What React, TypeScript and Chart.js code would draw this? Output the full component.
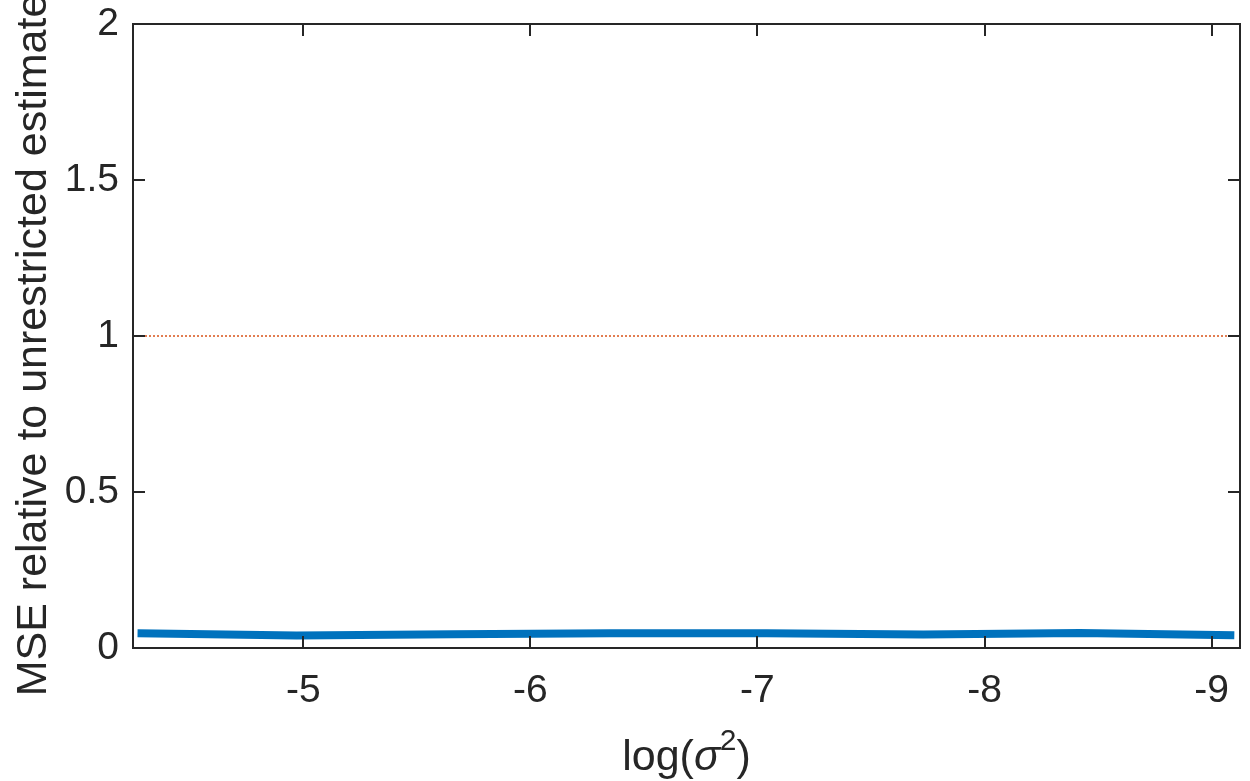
import React, { useEffect, useRef } from "react";
import { Chart, registerables } from "chart.js";
Chart.register(...registerables);

const logSigma2 = [-4.27, -4.97, -5.66, -6.35, -7.04, -7.73, -8.42, -9.1];
const mseRatio = [0.047, 0.04, 0.044, 0.047, 0.047, 0.043, 0.048, 0.041];
const refX = [-4.25, -9.125];
const refY = [1, 1];
const xTicks = [-9, -8, -7, -6, -5];
const yTicks = [0, 0.5, 1, 1.5, 2];
const xRange = [-9.125, -4.25];
const yRange = [0, 2];
const yTitle = "MSE relative to unrestricted estimate";

const FONT = '"Liberation Sans", Arial, Helvetica, sans-serif';
const INK = "#262626";

const framePlugin = {
  id: "matlabFrame",
  afterDraw(chart: any) {
    const { ctx, chartArea: a, scales } = chart;
    const xs = scales.x;
    const ys = scales.y;
    ctx.save();
    ctx.strokeStyle = INK;
    ctx.lineWidth = 2;
    ctx.strokeRect(a.left, a.top, a.right - a.left, a.bottom - a.top);
    ctx.beginPath();
    const tl = 12;
    xTicks.forEach((v) => {
      const px = Math.round(xs.getPixelForValue(v));
      ctx.moveTo(px, a.bottom);
      ctx.lineTo(px, a.bottom - tl);
      ctx.moveTo(px, a.top);
      ctx.lineTo(px, a.top + tl);
    });
    yTicks.forEach((v) => {
      const py = Math.round(ys.getPixelForValue(v));
      ctx.moveTo(a.left, py);
      ctx.lineTo(a.left + tl, py);
      ctx.moveTo(a.right, py);
      ctx.lineTo(a.right - tl, py);
    });
    ctx.stroke();

    // y title
    ctx.fillStyle = INK;
    ctx.save();
    ctx.translate(46, 345);
    ctx.rotate(-Math.PI / 2);
    ctx.font = `43px ${FONT}`;
    ctx.textAlign = "center";
    ctx.textBaseline = "alphabetic";
    ctx.fillText(yTitle, 0, 0);
    ctx.restore();

    // x title: log(σ^2)
    const parts = [
      { t: "log(", f: `43px ${FONT}`, dy: 0 },
      { t: "σ", f: `italic 43px ${FONT}`, dy: 0 },
      { t: "2", f: `30px ${FONT}`, dy: -20 },
      { t: ")", f: `43px ${FONT}`, dy: 0 },
    ];
    let total = 0;
    const widths = parts.map((p) => {
      ctx.font = p.f;
      const w = ctx.measureText(p.t).width;
      total += w;
      return w;
    });
    const cx = (a.left + a.right) / 2;
    let x = cx - total / 2;
    ctx.textAlign = "left";
    ctx.textBaseline = "alphabetic";
    parts.forEach((p, i) => {
      ctx.font = p.f;
      ctx.fillText(p.t, x, 770 + p.dy);
      x += widths[i];
    });
    ctx.restore();
  },
};

const whiteBg = {
  id: "whiteBg",
  beforeDraw(chart: any) {
    const { ctx, width, height } = chart;
    ctx.save();
    ctx.fillStyle = "#ffffff";
    ctx.fillRect(0, 0, width, height);
    ctx.restore();
  },
};

export default function App() {
  const ref = useRef<HTMLCanvasElement | null>(null);
  useEffect(() => {
    if (!ref.current) return;
    const chart = new Chart(ref.current, {
      type: "line",
      data: {
        datasets: [
          {
            label: "ref",
            data: refX.map((x, i) => ({ x, y: refY[i] })),
            borderColor: "#D95319",
            borderWidth: 1.5,
            borderDash: [2, 2],
            pointRadius: 0,
            fill: false,
          },
          {
            label: "mse",
            data: logSigma2.map((x, i) => ({ x, y: mseRatio[i] })),
            borderColor: "#0072BD",
            borderWidth: 8,
            borderCapStyle: "butt",
            borderJoinStyle: "round",
            pointRadius: 0,
            tension: 0,
            fill: false,
          },
        ],
      },
      options: {
        responsive: false,
        animation: false,
        events: [],
        layout: { padding: { left: 0, top: 24, right: 10, bottom: 0 } },
        plugins: { legend: { display: false }, tooltip: { enabled: false }, title: { display: false } },
        scales: {
          x: {
            type: "linear",
            reverse: true,
            min: xRange[0],
            max: xRange[1],
            grid: { display: false, drawTicks: false },
            border: { display: false },
            afterBuildTicks: (s: any) => {
              s.ticks = xTicks.map((v) => ({ value: v }));
            },
            afterFit: (s: any) => {
              s.height = 133;
              s.paddingLeft = 0;
              s.paddingRight = 0;
            },
            ticks: {
              color: INK,
              font: { family: FONT, size: 39 },
              padding: 20,
              maxRotation: 0,
              autoSkip: false,
              callback: (v: any) => String(v),
            },
          },
          y: {
            type: "linear",
            min: yRange[0],
            max: yRange[1],
            grid: { display: false, drawTicks: false },
            border: { display: false },
            afterBuildTicks: (s: any) => {
              s.ticks = yTicks.map((v) => ({ value: v }));
            },
            afterFit: (s: any) => {
              s.width = 133;
              s.paddingTop = 0;
              s.paddingBottom = 0;
            },
            ticks: {
              color: INK,
              font: { family: FONT, size: 39 },
              padding: 14,
              autoSkip: false,
              callback: (v: any) => String(v),
            },
          },
        },
      },
      plugins: [whiteBg, framePlugin],
    } as any);
    return () => chart.destroy();
  }, []);
  return (
    <div style={{ position: "fixed", left: 0, top: 0, width: 1250, height: 781, background: "#fff" }}>
      <canvas ref={ref} width={1250} height={781} style={{ display: "block", width: 1250, height: 781 }} />
    </div>
  );
}
